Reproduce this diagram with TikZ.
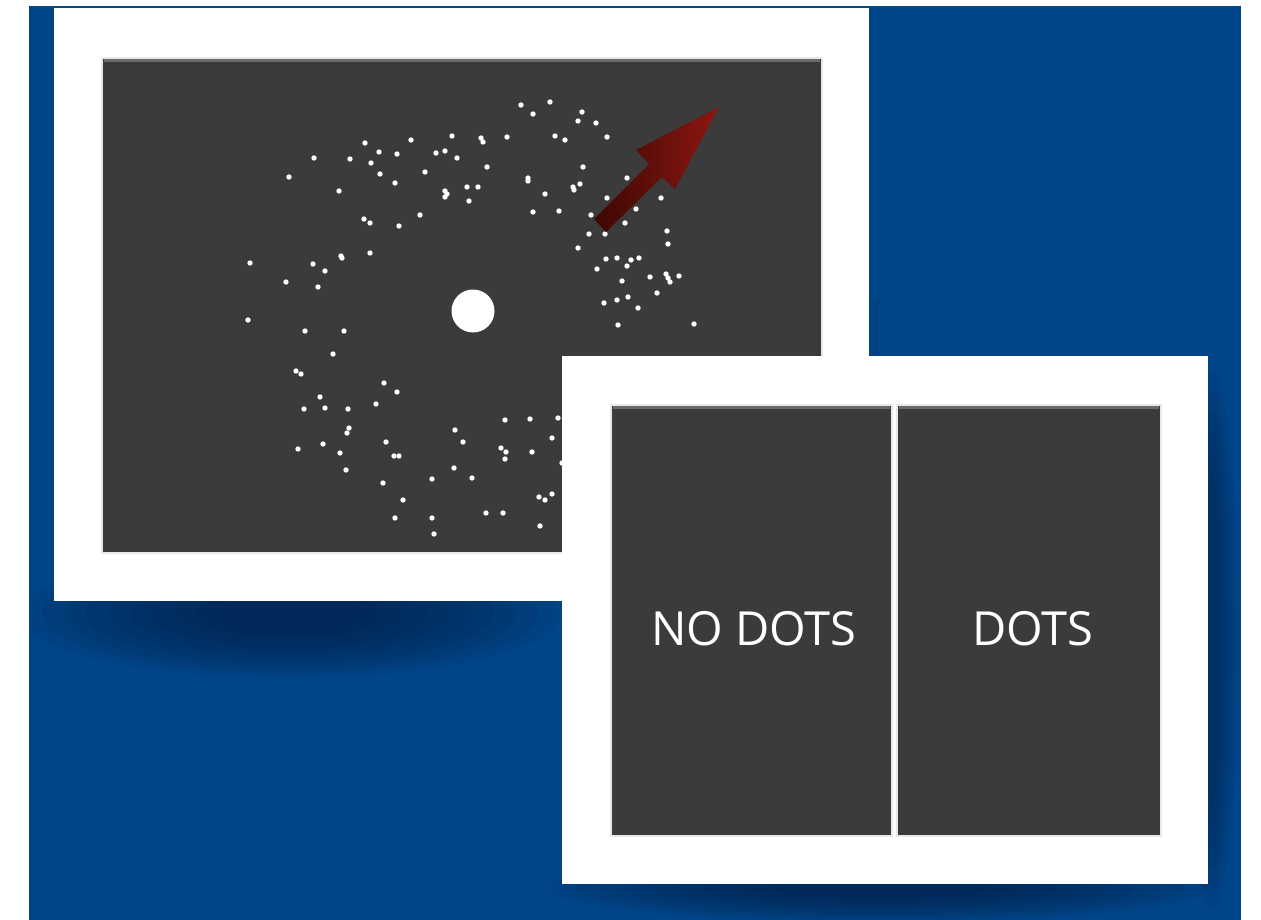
\documentclass[tikz,border=0pt]{standalone}
\usepackage{fontspec}
\newfontfamily\lblfont{Open Sans}
\definecolor{bgblue}{RGB}{0,69,136}
\definecolor{panelgray}{RGB}{59,59,59}
\definecolor{shadenavy}{RGB}{0,26,62}
\definecolor{arrowdark}{RGB}{60,8,2}
\definecolor{arrowred}{RGB}{142,22,18}
\tikzset{whiteframe/.style={fill=white},
  screen/.style={fill=panelgray,draw=black!9,line width=2pt},
  rim/.style={black!58,line width=3pt},
  smalldot/.style={fill=white},
  shadowblob/.style={fill=shadenavy,opacity=.09},
  paneltext/.style={text=white,anchor=base,inner sep=0pt,font=\lblfont\fontsize{47}{56}\selectfont}}

\begin{document}
\begin{tikzpicture}[x=1pt,y=-1pt]
\useasboundingbox (0,0) rectangle (1261,920);
\fill[white] (0,0) rectangle (1261,920);
\fill[bgblue] (29,6) rectangle (1241,920);
\begin{scope}
\clip (29,6) rectangle (1241,920);
% shadow of the first frame
\foreach \k in {0,...,9}{\fill[shadowblob] (290,614) ellipse ({(270-22*\k)*1pt} and {(64-5*\k)*1pt});}
\fill[shadowblob] (872,300) rectangle (878,600);
\fill[whiteframe] (54,8) rectangle (869,601);
\filldraw[screen] (102,58) rectangle (822,553);\draw[rim] (104,60.5)--(820,60.5);
% the dots
\foreach \p in {(521,105),(550,102),(533,114),(582,112),(578,121),(596,123),(507,137),(555,136),(565,140),(607,137),
  (452,136),(481,138),(483,142),(365,143),(411,140),(379,152),(397,154),(436,153),(445,151),(457,158),
  (314,158),(350,159),(371,163),(380,174),(425,172),(487,167),(528,178),(528,181),(289,177),(395,183),
  (339,191),(445,191),(447,194),(445,197),(467,187),(478,187),(469,201),(420,215),(364,219),(370,223),(399,226),
  (583,167),(545,194),(573,187),(574,190),(580,184),(627,178),(533,212),(559,211),(591,215),(607,198),(661,198),
  (636,209),(625,223),(667,231),(589,234),(605,234),(250,263),(313,264),(325,271),(341,256),(342,258),(370,253),
  (578,248),(668,244),(606,259),(617,258),(631,260),(639,258),(597,269),(627,266),(650,277),(666,274),(668,278),
  (670,282),(679,276),(622,281),(657,293),(604,303),(617,300),(628,297),(638,308),(618,325),(694,324),
  (286,282),(318,287),(248,320),(305,331),(344,331),(333,354),(296,371),(301,374),(384,383),(397,392),(320,397),
  (304,409),(325,408),(348,409),(376,404),(349,428),(347,433),(323,444),(298,449),(340,453),(346,470),(386,442),
  (394,456),(399,456),(383,483),(403,500),(395,518),(432,518),(434,534),(432,479),(454,468),(472,478),(455,430),
  (463,442),(505,420),(530,419),(558,418),(552,438),(562,463),(501,448),(506,452),(505,459),(532,452),(486,513),
  (503,513),(539,497),(545,500),(552,494),(540,526)}{\fill[smalldot] \p circle (2.7pt);}
\fill[white] (473,311) circle (21.5pt);
\shade[left color=arrowdark,right color=arrowred] (594,219)--(649,164)--(636,150)--(719,107)--(675,189)--(662,177)--(606,232)--cycle;
% shadow of the second frame
\foreach \k in {0,...,9}{\fill[shadowblob] (880,888) ellipse ({(330-25*\k)*1pt} and {(34-3*\k)*1pt});}
\foreach \k in {0,...,5}{\fill[shadowblob] (1212,640) ellipse ({(26-4*\k)*1pt} and {(270-20*\k)*1pt});}
\end{scope}
\fill[whiteframe] (562,356) rectangle (1208,884);
\filldraw[screen] (611,405) rectangle (892,836);\draw[rim] (613,407.5)--(890,407.5);
\filldraw[screen] (897,405) rectangle (1161,836);\draw[rim] (899,407.5)--(1159,407.5);
\node[paneltext] (nodots) at (754,645) {NO DOTS};
\node[paneltext] (dots) at (1033,645) {DOTS};
\end{tikzpicture}
\end{document}
